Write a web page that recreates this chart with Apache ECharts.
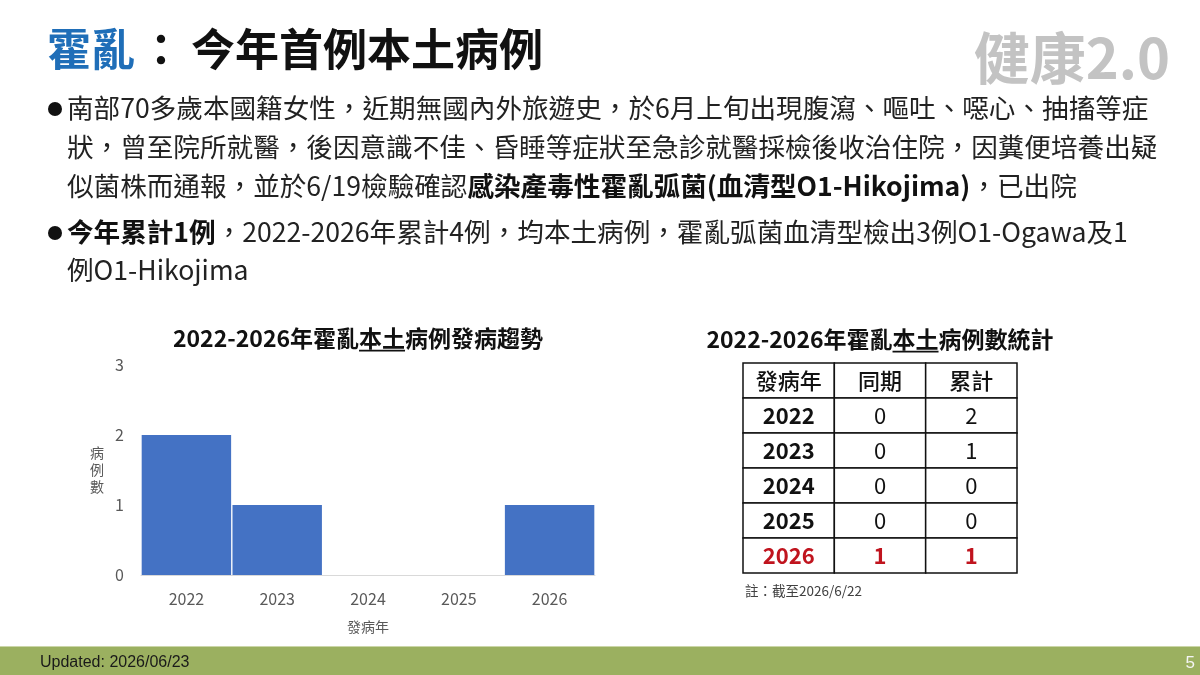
<!DOCTYPE html>
<html><head><meta charset="utf-8">
<script src="https://cdn.jsdelivr.net/npm/echarts@6/dist/echarts.min.js"></script>
<style>html,body{margin:0;padding:0;background:#fff}#c{width:1200px;height:675px}</style>
</head><body><div id="c"></div>
<script>
// ---- data ----
const years = ['2022', '2023', '2024', '2025', '2026'];
const cases = [2, 1, 0, 0, 1];
const sameTerm = [0, 0, 0, 0, 1];
const cumulative = [2, 1, 0, 0, 1];
const tableHeaders = ['發病年', '同期', '累計'];
const yTickMax = 3;
const highlightYear = '2026';
const chartTitleParts = ['2022-2026年霍亂', '本土', '病例發病趨勢'];
const tableTitleParts = ['2022-2026年霍亂', '本土', '病例數統計'];
const noteText = '註：截至2026/6/22';
const xAxisName = '發病年';
const yAxisName = '病\n例\n數';
const mainTitleBlue = '霍亂';
const mainTitleColon = '：';
const mainTitleRest = '今年首例本土病例';
const logoText = '健康2.0';
const updatedText = 'Updated: 2026/06/23';
const pageNo = '5';
const bulletLines = [
  [['n', '南部70多歲本國籍女性，近期無國內外旅遊史，於6月上旬出現腹瀉、嘔吐、噁心、抽搐等症']],
  [['n', '狀，曾至院所就醫，後因意識不佳、昏睡等症狀至急診就醫採檢後收治住院，因糞便培養出疑']],
  [['n', '似菌株而通報，並於6/19檢驗確認'], ['b', '感染產毒性霍亂弧菌(血清型O1-Hikojima)'], ['n', '，已出院']],
  [['b', '今年累計1例'], ['n', '，2022-2026年累計4例，均本土病例，霍亂弧菌血清型檢出3例O1-Ogawa及1']],
  [['n', '例O1-Hikojima']]
];
const bulletStarts = [true, false, false, true, false];

// ---- helpers ----
const FONT = '"Noto Sans CJK TC","Noto Sans CJK SC","Noto Sans",sans-serif';
const mctx = document.createElement('canvas').getContext('2d');
function tw(t, size, weight) { mctx.font = (weight || 'normal') + ' ' + size + 'px ' + FONT; return mctx.measureText(t).width; }

const chart = echarts.init(document.getElementById('c'));

const graphics = [];
// main title
graphics.push({
  type: 'text', x: 47, y: 49,
  style: {
    text: '{b|' + mainTitleBlue + '}{c|' + mainTitleColon + '}{k|' + mainTitleRest + '}',
    verticalAlign: 'middle', align: 'left',
    rich: {
      b: { fontFamily: FONT, fontSize: 44, fontWeight: 'bold', fill: '#1F6EB8', color: '#1F6EB8' },
      c: { fontFamily: FONT, fontSize: 44, fontWeight: 'bold', fill: '#111', color: '#111', padding: [0, 8, 0, 4] },
      k: { fontFamily: FONT, fontSize: 44, fontWeight: 'bold', fill: '#111', color: '#111' }
    }
  }
});
// logo
graphics.push({
  type: 'text', x: 1170, y: 58,
  style: { text: logoText, align: 'right', verticalAlign: 'middle', font: 'bold 56px ' + FONT, fill: '#C3C3C3' }
});
// bullets
const lineY = [108, 147, 186, 232, 270];
const BODY = 26.6;
bulletLines.forEach((segs, i) => {
  if (bulletStarts[i]) {
    graphics.push({ type: 'circle', shape: { cx: 55, cy: lineY[i] + 1, r: 7 }, style: { fill: '#111' } });
  }
  const txt = segs.map(s => '{' + s[0] + '|' + s[1] + '}').join('');
  graphics.push({
    type: 'text', x: 67, y: lineY[i],
    style: {
      text: txt, verticalAlign: 'middle', align: 'left',
      rich: {
        n: { fontFamily: FONT, fontSize: BODY, fill: '#222', color: '#222' },
        b: { fontFamily: FONT, fontSize: BODY, fontWeight: 'bold', fill: '#111', color: '#111' }
      }
    }
  });
});
// titles with underline
function titleWithUnderline(parts, cx, cy, size) {
  const full = parts.join('');
  const W = tw(full, size, 'bold');
  const x0 = cx - W / 2;
  graphics.push({ type: 'text', x: x0, y: cy, style: { text: full, font: 'bold ' + size + 'px ' + FONT, fill: '#111', verticalAlign: 'middle', align: 'left' } });
  const u0 = x0 + tw(parts[0], size, 'bold');
  const u1 = u0 + tw(parts[1], size, 'bold');
  graphics.push({ type: 'line', shape: { x1: u0, y1: cy + size * 0.55, x2: u1, y2: cy + size * 0.55 }, style: { stroke: '#111', lineWidth: 1.6 } });
}
titleWithUnderline(chartTitleParts, 358, 338, 23);
titleWithUnderline(tableTitleParts, 880, 339, 23);
// y axis name
graphics.push({ type: 'text', x: 97, y: 470, style: { text: yAxisName, font: '14px ' + FONT, fill: '#595959', align: 'center', verticalAlign: 'middle', lineHeight: 17 } });
// note
graphics.push({ type: 'text', x: 745, y: 591, style: { text: noteText, font: '13.5px ' + FONT, fill: '#404040', align: 'left', verticalAlign: 'middle' } });
// footer
graphics.push({ type: 'rect', shape: { x: 0, y: 647, width: 1200, height: 28 }, style: { fill: '#9BB060' } });
graphics.push({ type: 'line', shape: { x1: 0, y1: 646.5, x2: 1200, y2: 646.5 }, style: { stroke: '#CBD6A8', lineWidth: 1 } });
graphics.push({ type: 'text', x: 40, y: 663, style: { text: updatedText, font: '16px "Liberation Sans",sans-serif', fill: '#1a1a1a', align: 'left', verticalAlign: 'middle' } });
graphics.push({ type: 'text', x: 1195, y: 663, style: { text: pageNo, font: '17px "Liberation Sans",sans-serif', fill: '#F4F4F4', align: 'right', verticalAlign: 'middle' } });

// table data
const tableRows = [tableHeaders].concat(years.map((y, i) => [y, String(sameTerm[i]), String(cumulative[i])]));
const tableData = [];
const tableCells = [];
tableRows.forEach((row, r) => row.forEach((v, c) => { tableData.push([c, r]); tableCells.push({ text: v, r, c }); }));

chart.setOption({
  animation: false,
  textStyle: { fontFamily: FONT },
  grid: [
    { left: 141, right: 605, top: 365, bottom: 100 },
    { left: 743, top: 363, width: 274, height: 210 }
  ],
  xAxis: [
    {
      gridIndex: 0, type: 'category', data: years,
      axisLine: { lineStyle: { color: '#D9D9D9', width: 1 } },
      axisTick: { show: false },
      axisLabel: { color: '#595959', fontSize: 16, margin: 16 },
      name: xAxisName, nameLocation: 'middle', nameGap: 45,
      nameTextStyle: { color: '#595959', fontSize: 14 }
    },
    { gridIndex: 1, type: 'category', data: tableHeaders.map((_, i) => String(i)), show: false }
  ],
  yAxis: [
    {
      gridIndex: 0, type: 'value', min: 0, max: yTickMax, interval: 1,
      splitLine: { show: false }, axisLine: { show: false }, axisTick: { show: false },
      axisLabel: { color: '#595959', fontSize: 16, margin: 17 }
    },
    { gridIndex: 1, type: 'category', inverse: true, data: tableRows.map((_, i) => String(i)), show: false }
  ],
  series: [
    {
      type: 'bar', xAxisIndex: 0, yAxisIndex: 0, data: cases,
      barCategoryGap: '1.5%',
      itemStyle: { color: '#4472C4' }
    },
    {
      type: 'custom', xAxisIndex: 1, yAxisIndex: 1, coordinateSystem: 'cartesian2d',
      data: tableData, encode: { x: 0, y: 1 },
      renderItem: function (params, api) {
        const cell = tableCells[params.dataIndex];
        const pt = api.coord([api.value(0), api.value(1)]);
        const sz = api.size([1, 1]);
        const isHeader = cell.r === 0;
        const rowYear = isHeader ? null : tableRows[cell.r][0];
        const red = rowYear === highlightYear;
        let weight = 'normal';
        if (isHeader) weight = '500';
        else if (cell.c === 0 || red) weight = 'bold';
        return {
          type: 'group',
          children: [
            { type: 'rect', shape: { x: pt[0] - sz[0] / 2, y: pt[1] - sz[1] / 2, width: sz[0], height: sz[1] }, style: { fill: '#fff', stroke: '#111', lineWidth: 1.5 } },
            { type: 'text', x: pt[0], y: pt[1], style: { text: cell.text, align: 'center', verticalAlign: 'middle', font: weight + ' 22px ' + FONT, fill: red ? '#C0141E' : '#111' } }
          ]
        };
      }
    }
  ],
  graphic: graphics
});
</script></body></html>
